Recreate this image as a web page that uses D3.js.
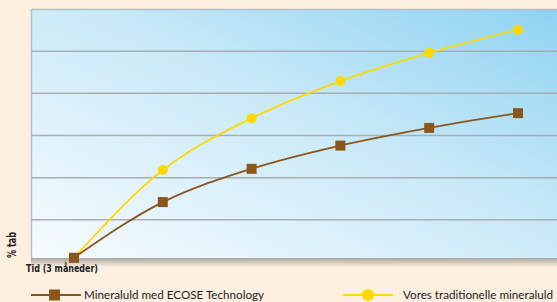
<!DOCTYPE html>
<html>
<head>
<meta charset="utf-8">
<script src="https://cdn.jsdelivr.net/npm/d3@7"></script>
<style>
body { margin: 0; background: #fdefe0; }
svg { display: block; }
</style>
</head>
<body>
<script>
// data (y in grid units)
var periods = [0, 1, 2, 3, 4, 5];
var ecose = [0.1, 1.42, 2.21, 2.76, 3.18, 3.53];
var traditionel = [0.1, 2.18, 3.41, 4.29, 4.96, 5.51];
var gridTicks = [1, 2, 3, 4, 5];
var seriesNames = ["Mineraluld med ECOSE Technology", "Vores traditionelle mineraluld"];

var width = 557, height = 302;
var plot = {left: 31, top: 9, right: 557, bottom: 258};

var svg = d3.select("body").append("svg")
  .attr("width", width)
  .attr("height", height);

var defs = svg.append("defs");
var bg = defs.append("linearGradient").attr("id", "plotbg")
  .attr("x1", "0%").attr("y1", "100%").attr("x2", "100%").attr("y2", "0%");
bg.append("stop").attr("offset", "0%").attr("stop-color", "#f6fbfe");
bg.append("stop").attr("offset", "55%").attr("stop-color", "#c9e9f8");
bg.append("stop").attr("offset", "100%").attr("stop-color", "#8ed3f1");

var shadow = defs.append("linearGradient").attr("id", "shadow")
  .attr("x1", "0").attr("y1", "0").attr("x2", "0").attr("y2", "1");
shadow.append("stop").attr("offset", "0%").attr("stop-color", "#a9a5a0");
shadow.append("stop").attr("offset", "100%").attr("stop-color", "#fdefe0");

var xScale = d3.scaleLinear().domain([0, 5]).range([74, 518]);
var yScale = d3.scaleLinear().domain([0, 6]).range([262, 9]);

// skygge under plottet
svg.append("rect")
  .attr("x", plot.left).attr("y", plot.bottom)
  .attr("width", plot.right - plot.left).attr("height", 9)
  .attr("fill", "url(#shadow)");

// plot baggrund
svg.append("rect")
  .attr("x", plot.left).attr("y", plot.top)
  .attr("width", plot.right - plot.left).attr("height", plot.bottom - plot.top)
  .attr("fill", "url(#plotbg)");

// kant venstre og top
svg.append("path")
  .attr("d", "M" + (plot.left + 0.5) + "," + plot.bottom + "V" + (plot.top + 0.5) + "H" + plot.right)
  .attr("fill", "none").attr("stroke", "#b9bec3").attr("stroke-width", 1.5);

// gitterlinjer
svg.append("g").selectAll("line")
  .data(gridTicks).join("line")
  .attr("x1", plot.left).attr("x2", plot.right)
  .attr("y1", d => yScale(d)).attr("y2", d => yScale(d))
  .attr("stroke", "#a6adb3").attr("stroke-width", 1.5);

var line = d3.line()
  .x((d, i) => xScale(periods[i]))
  .y(d => yScale(d))
  .curve(d3.curveMonotoneX);

var brown = "#8a561c", yellow = "#ffd800";

svg.append("path").datum(traditionel)
  .attr("d", line).attr("fill", "none")
  .attr("stroke", yellow).attr("stroke-width", 1.8);

svg.append("path").datum(ecose)
  .attr("d", line).attr("fill", "none")
  .attr("stroke", brown).attr("stroke-width", 1.8);

svg.append("g").selectAll("circle")
  .data(traditionel.slice(1)).join("circle")
  .attr("cx", (d, i) => xScale(periods[i + 1]))
  .attr("cy", d => yScale(d))
  .attr("r", 5)
  .attr("fill", yellow);

svg.append("g").selectAll("rect")
  .data(ecose).join("rect")
  .attr("x", (d, i) => xScale(periods[i]) - 5)
  .attr("y", d => yScale(d) - 5)
  .attr("width", 10).attr("height", 10)
  .attr("fill", brown);

// akse titler
svg.append("text")
  .attr("x", 26).attr("y", 272)
  .attr("font-family", "'DejaVu Sans Condensed', 'DejaVu Sans'")
  .attr("font-weight", "bold").attr("font-size", 10)
  .attr("fill", "#222")
  .attr("textLength", 72).attr("lengthAdjust", "spacingAndGlyphs")
  .text("Tid (3 måneder)");

svg.append("text")
  .attr("transform", "translate(16,245) rotate(-90)")
  .attr("text-anchor", "middle")
  .attr("font-family", "'DejaVu Sans Condensed', 'DejaVu Sans'")
  .attr("font-weight", "bold").attr("font-size", 12.5)
  .attr("fill", "#222")
  .attr("textLength", 26).attr("lengthAdjust", "spacingAndGlyphs")
  .text("% tab");

// legende
var legend = svg.append("g");
legend.append("line").attr("x1", 31).attr("x2", 81).attr("y1", 295).attr("y2", 295)
  .attr("stroke", brown).attr("stroke-width", 2);
legend.append("rect").attr("x", 49).attr("y", 289.5).attr("width", 11).attr("height", 11)
  .attr("fill", brown);
legend.append("text").attr("x", 84).attr("y", 299)
  .attr("font-family", "Lato").attr("font-size", 11.5).attr("fill", "#222")
  .attr("textLength", 180).attr("lengthAdjust", "spacingAndGlyphs")
  .text(seriesNames[0]);

legend.append("line").attr("x1", 343).attr("x2", 393).attr("y1", 295).attr("y2", 295)
  .attr("stroke", yellow).attr("stroke-width", 2);
legend.append("circle").attr("cx", 368).attr("cy", 295).attr("r", 6)
  .attr("fill", yellow);
legend.append("text").attr("x", 403).attr("y", 299)
  .attr("font-family", "Lato").attr("font-size", 11.5).attr("fill", "#222")
  .attr("textLength", 150).attr("lengthAdjust", "spacingAndGlyphs")
  .text(seriesNames[1]);
</script>
</body>
</html>
